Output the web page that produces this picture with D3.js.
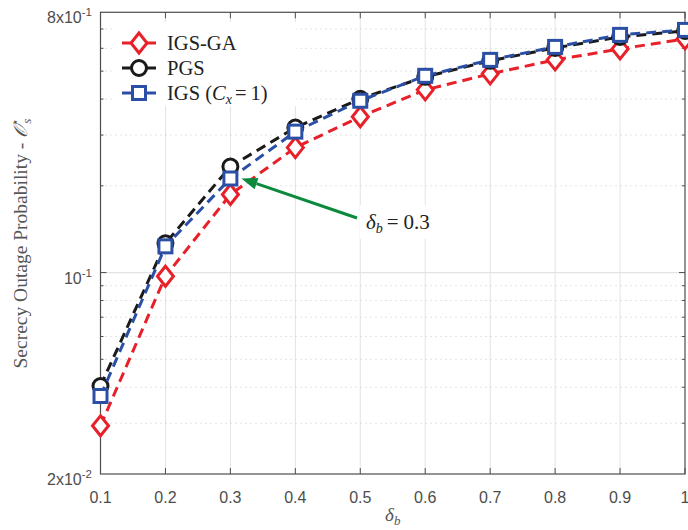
<!DOCTYPE html>
<html>
<head>
<meta charset="utf-8">
<script src="https://cdn.jsdelivr.net/npm/d3@7"></script>
<style>
  html, body { margin: 0; padding: 0; background: #fff; }
  svg { display: block; }
</style>
</head>
<body>
<svg id="chart" width="688" height="530"></svg>
<script>
// δ_b values along the x axis
const deltaB = [0.1, 0.2, 0.3, 0.4, 0.5, 0.6, 0.7, 0.8, 0.9, 1.0];
// secrecy outage probability for each scheme
const igsGA = [0.0294, 0.0971, 0.1866, 0.2714, 0.3473, 0.4306, 0.4893, 0.547, 0.597, 0.6467];
const pgs   = [0.0404, 0.1263, 0.2333, 0.3184, 0.401, 0.4777, 0.5429, 0.602, 0.657, 0.6895];
const igs   = [0.0373, 0.1233, 0.212, 0.3083, 0.3946, 0.4816, 0.547, 0.6068, 0.668, 0.695];
// axis ticks
const xTicks = [0.1, 0.2, 0.3, 0.4, 0.5, 0.6, 0.7, 0.8, 0.9, 1.0];
const xTickLabels = ["0.1", "0.2", "0.3", "0.4", "0.5", "0.6", "0.7", "0.8", "0.9", "1"];
const yLabelTicks = [0.02, 0.1, 0.8];
const yLabelBase = ["2x10", "10", "8x10"];
const yLabelExp = ["-2", "-1", "-1"];
const yMinorTicks = [0.03, 0.04, 0.05, 0.06, 0.07, 0.08, 0.09, 0.2, 0.3, 0.4, 0.5, 0.6, 0.7];
const annotPoint = { x: 0.3, y: 0.212 };

const svg = d3.select("#chart");
const L = 100.5, R = 685, T = 12.3, B = 474;
const x = d3.scaleLinear().domain([0.1, 1]).range([L, R]);
const y = d3.scaleLog().domain([0.02, 0.8]).range([B, T]);

const axisCol = "#4d4d4d";
const serif = "'Liberation Serif', 'DejaVu Serif', serif";
const sans = "'Liberation Sans', Arial, Helvetica, sans-serif";

// grid
const grid = svg.append("g");
grid.selectAll("line.vx").data(xTicks.slice(1, -1)).join("line")
  .attr("x1", d => x(d)).attr("x2", d => x(d)).attr("y1", T).attr("y2", B)
  .attr("stroke", "#e3e3e3").attr("stroke-width", 1);
grid.selectAll("line.hm").data(yMinorTicks).join("line")
  .attr("x1", L).attr("x2", R).attr("y1", d => y(d)).attr("y2", d => y(d))
  .attr("stroke", "#c8c8c8").attr("stroke-width", 1).attr("stroke-dasharray", "1,4");
grid.append("line").attr("x1", L).attr("x2", R).attr("y1", y(0.1)).attr("y2", y(0.1))
  .attr("stroke", "#e3e3e3").attr("stroke-width", 1.2);

// axes box
const ax = svg.append("g");
ax.append("rect").attr("x", L).attr("y", T).attr("width", R - L).attr("height", B - T)
  .attr("fill", "none").attr("stroke", axisCol).attr("stroke-width", 1.2);
xTicks.forEach(v => {
  ax.append("line").attr("x1", x(v)).attr("x2", x(v)).attr("y1", B).attr("y2", B - 6).attr("stroke", axisCol);
  ax.append("line").attr("x1", x(v)).attr("x2", x(v)).attr("y1", T).attr("y2", T + 6).attr("stroke", axisCol);
});
yMinorTicks.forEach(v => {
  ax.append("line").attr("x1", L).attr("x2", L + 3).attr("y1", y(v)).attr("y2", y(v)).attr("stroke", axisCol);
  ax.append("line").attr("x1", R).attr("x2", R - 3).attr("y1", y(v)).attr("y2", y(v)).attr("stroke", axisCol);
});
[0.1].forEach(v => {
  ax.append("line").attr("x1", L).attr("x2", L + 6).attr("y1", y(v)).attr("y2", y(v)).attr("stroke", axisCol);
  ax.append("line").attr("x1", R).attr("x2", R - 6).attr("y1", y(v)).attr("y2", y(v)).attr("stroke", axisCol);
});

// tick labels
svg.append("g").selectAll("text").data(xTicks).join("text")
  .attr("x", d => x(d)).attr("y", B + 29)
  .attr("text-anchor", "middle").attr("font-family", sans).attr("font-size", 16)
  .attr("fill", axisCol).text((d, i) => xTickLabels[i]);
const yl = svg.append("g").selectAll("text").data(yLabelTicks).join("text")
  .attr("x", 92).attr("y", d => y(d) + 11)
  .attr("text-anchor", "end").attr("font-family", sans).attr("font-size", 16).attr("fill", axisCol);
yl.append("tspan").text((d, i) => yLabelBase[i]);
yl.append("tspan").attr("dy", -7).attr("font-size", 11.5).text((d, i) => yLabelExp[i]);

// axis titles
const xt = svg.append("text").attr("x", (L + R) / 2).attr("y", 521).attr("text-anchor", "middle")
  .attr("font-family", serif).attr("font-size", 19).attr("fill", "#555");
xt.append("tspan").attr("font-style", "italic").text("δ");
xt.append("tspan").attr("font-style", "italic").attr("font-size", 13).attr("dy", 4).text("b");

const ytl = svg.append("text").attr("transform", `translate(27,${(T + B) / 2}) rotate(-90)`)
  .attr("text-anchor", "middle").attr("font-family", serif).attr("font-size", 19.5).attr("fill", "#555");
ytl.append("tspan").text("Secrecy Outage Probability - ");
ytl.append("tspan").attr("font-style", "italic").text("𝒪");
ytl.append("tspan").attr("font-size", 12).attr("dy", -8).text("⋆");
ytl.append("tspan").attr("font-size", 13).attr("font-style", "italic").attr("dx", -6).attr("dy", 12).text("s");

// series
const series = [
  { name: "IGS-GA", values: igsGA, color: "#e8202a", marker: "diamond" },
  { name: "PGS", values: pgs, color: "#1a1a1a", marker: "circle" },
  { name: "IGS", values: igs, color: "#2c4fa6", marker: "square" }
];

function drawMarker(g, type, cx, cy, color) {
  if (type === "diamond") {
    g.append("path").attr("d", `M${cx},${cy - 10}L${cx + 8},${cy}L${cx},${cy + 10}L${cx - 8},${cy}Z`)
      .attr("fill", "#fff").attr("stroke", color).attr("stroke-width", 3);
  } else if (type === "circle") {
    g.append("circle").attr("cx", cx).attr("cy", cy).attr("r", 7.5)
      .attr("fill", "#fff").attr("stroke", color).attr("stroke-width", 3);
  } else {
    g.append("rect").attr("x", cx - 6.5).attr("y", cy - 6.5).attr("width", 13).attr("height", 13)
      .attr("fill", "#fff").attr("stroke", color).attr("stroke-width", 3);
  }
}

const line = d3.line().x((d, i) => x(deltaB[i])).y(d => y(d));
const plot = svg.append("g");
series.forEach(s => {
  plot.append("path").datum(s.values).attr("d", line)
    .attr("fill", "none").attr("stroke", s.color).attr("stroke-width", 3)
    .attr("stroke-dasharray", "10,6");
  const mg = plot.append("g");
  s.values.forEach((v, i) => drawMarker(mg, s.marker, x(deltaB[i]), y(v), s.color));
});

// legend
const lg = svg.append("g");
lg.append("rect").attr("x", 114).attr("y", 22).attr("width", 182).attr("height", 84).attr("fill", "#fff");
series.forEach((s, i) => {
  const ly = 43 + i * 25;
  lg.append("line").attr("x1", 122).attr("x2", 156).attr("y1", ly).attr("y2", ly)
    .attr("stroke", s.color).attr("stroke-width", 3);
  drawMarker(lg, s.marker, 139, ly, s.color);
  const t = lg.append("text").attr("x", 167).attr("y", ly + 7).attr("font-family", serif)
    .attr("font-size", 20.5).attr("fill", "#222");
  if (s.name === "IGS") {
    t.append("tspan").text("IGS (");
    t.append("tspan").attr("font-style", "italic").text("C");
    t.append("tspan").attr("font-style", "italic").attr("font-size", 14).attr("dy", 4).text("x");
    t.append("tspan").attr("dy", -4).attr("dx", 3).text("=");
    t.append("tspan").attr("dx", 4).text("1)");
  } else {
    t.text(s.name);
  }
});

// annotation arrow
const green = "#0b8a3c";
const tipX = x(annotPoint.x) + 11, tipY = y(annotPoint.y);
const tailX = 357, tailY = 218;
const ang = Math.atan2(tipY - tailY, tipX - tailX);
const hl = 16, hw = 6;
const bx = tipX - hl * Math.cos(ang), by = tipY - hl * Math.sin(ang);
svg.append("line").attr("x1", tailX).attr("y1", tailY).attr("x2", bx).attr("y2", by)
  .attr("stroke", green).attr("stroke-width", 3);
svg.append("path")
  .attr("d", `M${tipX},${tipY}L${bx + hw * Math.sin(ang)},${by - hw * Math.cos(ang)}L${bx - hw * Math.sin(ang)},${by + hw * Math.cos(ang)}Z`)
  .attr("fill", green);
svg.append("rect").attr("x", 360).attr("y", 205).attr("width", 86).attr("height", 34).attr("fill", "#fff");
const at = svg.append("text").attr("x", 366).attr("y", 229).attr("font-family", serif)
  .attr("font-size", 21).attr("fill", "#222");
at.append("tspan").attr("font-style", "italic").text("δ");
at.append("tspan").attr("font-style", "italic").attr("font-size", 14).attr("dy", 4).text("b");
at.append("tspan").attr("dy", -4).attr("dx", 4).text("=");
at.append("tspan").attr("dx", 5).text("0.3");
</script>
</body>
</html>
